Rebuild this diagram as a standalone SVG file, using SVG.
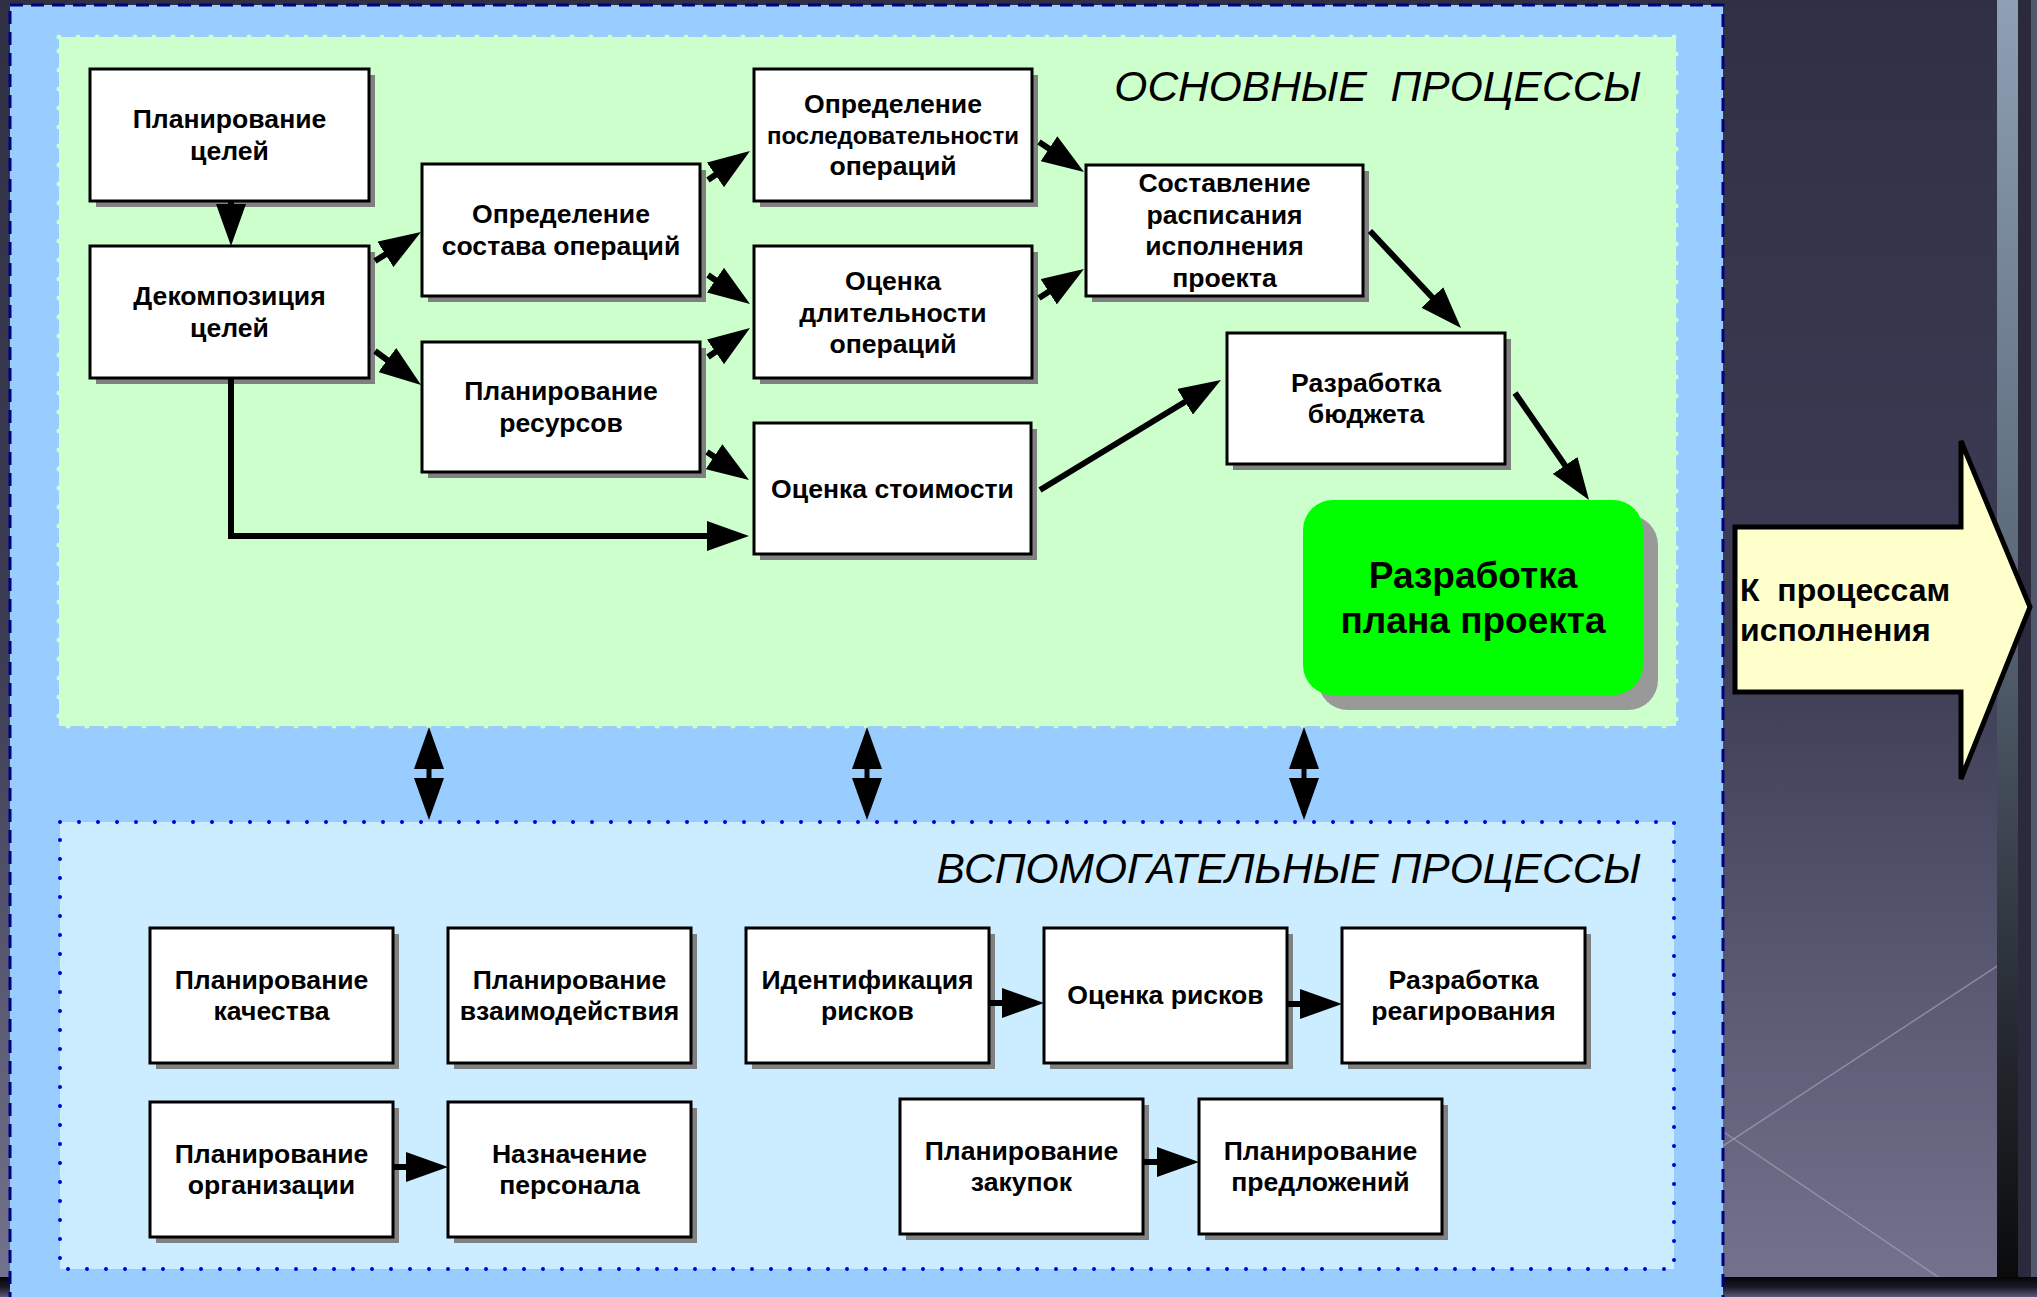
<svg xmlns="http://www.w3.org/2000/svg" width="2037" height="1297" viewBox="0 0 2037 1297">
  <defs>
    <linearGradient id="bg" x1="0" y1="0" x2="0" y2="1">
      <stop offset="0" stop-color="#303045"/>
      <stop offset="0.5" stop-color="#3c3c55"/>
      <stop offset="1" stop-color="#74748e"/>
    </linearGradient>
    <linearGradient id="vbar" x1="0" y1="0" x2="0" y2="1">
      <stop offset="0" stop-color="#8ea0b4"/>
      <stop offset="0.45" stop-color="#5a6878"/>
      <stop offset="0.7" stop-color="#333a44"/>
      <stop offset="1" stop-color="#080808"/>
    </linearGradient>
    <linearGradient id="hbar" x1="0" y1="0" x2="0" y2="1">
      <stop offset="0" stop-color="#050505"/>
      <stop offset="0.5" stop-color="#1a1a28"/>
      <stop offset="1" stop-color="#58587a"/>
    </linearGradient>
    <marker id="ah" markerUnits="userSpaceOnUse" markerWidth="42" markerHeight="30" viewBox="0 0 42 30" refX="30" refY="15" orient="auto-start-reverse">
      <path d="M0,0 L42,15 L0,30 z" fill="#000"/>
    </marker>
    <style>
      .box { fill: #ffffff; stroke: #000000; stroke-width: 3; }
      .shadow { fill: #808080; }
      .t { font-family: "Liberation Sans", Arial, sans-serif; font-weight: bold; font-size: 26.6px; text-anchor: middle; fill: #000; }
      .title { font-family: "Liberation Sans", Arial, sans-serif; font-style: italic; font-size: 42.5px; text-anchor: end; fill: #000; }
      .conn { fill: none; stroke: #000; stroke-width: 6; marker-end: url(#ah); }
      .dbl { fill: none; stroke: #000; stroke-width: 5; marker-start: url(#ah); marker-end: url(#ah); }
      .exec { font-family: "Liberation Sans", Arial, sans-serif; font-weight: bold; font-size: 32px; fill: #000; }
    </style>
  </defs>

  <!-- background -->
  <rect x="0" y="0" width="2037" height="1297" fill="url(#bg)"/>
  <line x1="1700" y1="1161" x2="2037" y2="940" stroke="#a0a0b8" stroke-width="1.5" opacity="0.7"/>
  <line x1="1700" y1="1116" x2="1953" y2="1287" stroke="#a0a0b8" stroke-width="1.5" opacity="0.7"/>
  <rect x="1997" y="0" width="21" height="1297" fill="url(#vbar)"/>
  <rect x="2018" y="0" width="13" height="1297" fill="#2a2a3c"/>
  <rect x="2031" y="0" width="6" height="1297" fill="#55556e"/>
  <rect x="0" y="1277" width="2037" height="20" fill="url(#hbar)"/>

  <!-- panels -->
  <rect id="outer-panel" x="10" y="5" width="1713" height="1310" fill="#99CCFF" stroke="#000080" stroke-width="3" stroke-dasharray="13 8"/>
  <rect id="main-panel" x="59" y="37" width="1617" height="689" fill="#CCFFCC" stroke="#CCFFCC" stroke-width="5" stroke-dasharray="0 19" stroke-linecap="round"/>
  <rect id="aux-panel" x="60" y="822" width="1614" height="447" fill="#CCECFF" stroke="#0000DD" stroke-width="4" stroke-dasharray="0 19" stroke-linecap="round"/>

  <text class="title" x="1641" y="101" xml:space="preserve">ОСНОВНЫЕ  ПРОЦЕССЫ</text>
  <text class="title" x="1641" y="883">ВСПОМОГАТЕЛЬНЫЕ ПРОЦЕССЫ</text>

  <!-- main nodes -->
  <g id="n-plan-goals">
    <rect class="shadow" x="96" y="75" width="279" height="132"/>
    <rect class="box" x="90" y="69" width="279" height="132"/>
    <text class="t" x="229.5" y="128">Планирование</text>
    <text class="t" x="229.5" y="159.5">целей</text>
  </g>
  <g id="n-decomp">
    <rect class="shadow" x="96" y="252" width="279" height="132"/>
    <rect class="box" x="90" y="246" width="279" height="132"/>
    <text class="t" x="229.5" y="305">Декомпозиция</text>
    <text class="t" x="229.5" y="336.5">целей</text>
  </g>
  <g id="n-ops">
    <rect class="shadow" x="428" y="170" width="278" height="132"/>
    <rect class="box" x="422" y="164" width="278" height="132"/>
    <text class="t" x="561" y="223">Определение</text>
    <text class="t" x="561" y="254.5">состава операций</text>
  </g>
  <g id="n-res">
    <rect class="shadow" x="428" y="348" width="278" height="130"/>
    <rect class="box" x="422" y="342" width="278" height="130"/>
    <text class="t" x="561" y="400">Планирование</text>
    <text class="t" x="561" y="431.5">ресурсов</text>
  </g>
  <g id="n-seq">
    <rect class="shadow" x="760" y="75" width="278" height="132"/>
    <rect class="box" x="754" y="69" width="278" height="132"/>
    <text class="t" x="893" y="113">Определение</text>
    <text class="t" x="893" y="144" style="font-size:24px">последовательности</text>
    <text class="t" x="893" y="174.5">операций</text>
  </g>
  <g id="n-dur">
    <rect class="shadow" x="760" y="252" width="278" height="132"/>
    <rect class="box" x="754" y="246" width="278" height="132"/>
    <text class="t" x="893" y="290">Оценка</text>
    <text class="t" x="893" y="321.5">длительности</text>
    <text class="t" x="893" y="353">операций</text>
  </g>
  <g id="n-cost">
    <rect class="shadow" x="760" y="429" width="277" height="131"/>
    <rect class="box" x="754" y="423" width="277" height="131"/>
    <text class="t" x="892.5" y="497.5">Оценка стоимости</text>
  </g>
  <g id="n-sched">
    <rect class="shadow" x="1092" y="171" width="277" height="131"/>
    <rect class="box" x="1086" y="165" width="277" height="131"/>
    <text class="t" x="1224.5" y="192">Составление</text>
    <text class="t" x="1224.5" y="223.5">расписания</text>
    <text class="t" x="1224.5" y="255">исполнения</text>
    <text class="t" x="1224.5" y="286.5">проекта</text>
  </g>
  <g id="n-budget">
    <rect class="shadow" x="1233" y="339" width="278" height="131"/>
    <rect class="box" x="1227" y="333" width="278" height="131"/>
    <text class="t" x="1366" y="391.5">Разработка</text>
    <text class="t" x="1366" y="423">бюджета</text>
  </g>
  <g id="n-plan">
    <rect x="1318" y="515" width="340" height="195" rx="30" ry="30" fill="#999999"/>
    <rect x="1303" y="500" width="340" height="195" rx="30" ry="30" fill="#00FF00"/>
    <text class="t" x="1473" y="588" style="font-size:37px">Разработка</text>
    <text class="t" x="1473" y="633" style="font-size:37px">плана проекта</text>
  </g>

  <!-- auxiliary nodes -->
  <g id="n-quality">
    <rect class="shadow" x="156" y="934" width="243" height="135"/>
    <rect class="box" x="150" y="928" width="243" height="135"/>
    <text class="t" x="271.5" y="988.5">Планирование</text>
    <text class="t" x="271.5" y="1020">качества</text>
  </g>
  <g id="n-comm">
    <rect class="shadow" x="454" y="934" width="243" height="135"/>
    <rect class="box" x="448" y="928" width="243" height="135"/>
    <text class="t" x="569.5" y="988.5">Планирование</text>
    <text class="t" x="569.5" y="1020">взаимодействия</text>
  </g>
  <g id="n-risk-id">
    <rect class="shadow" x="752" y="934" width="243" height="135"/>
    <rect class="box" x="746" y="928" width="243" height="135"/>
    <text class="t" x="867.5" y="988.5">Идентификация</text>
    <text class="t" x="867.5" y="1020">рисков</text>
  </g>
  <g id="n-risk-eval">
    <rect class="shadow" x="1050" y="934" width="243" height="135"/>
    <rect class="box" x="1044" y="928" width="243" height="135"/>
    <text class="t" x="1165.5" y="1004">Оценка рисков</text>
  </g>
  <g id="n-risk-resp">
    <rect class="shadow" x="1348" y="934" width="243" height="135"/>
    <rect class="box" x="1342" y="928" width="243" height="135"/>
    <text class="t" x="1463.5" y="988.5">Разработка</text>
    <text class="t" x="1463.5" y="1020">реагирования</text>
  </g>
  <g id="n-org">
    <rect class="shadow" x="156" y="1108" width="243" height="135"/>
    <rect class="box" x="150" y="1102" width="243" height="135"/>
    <text class="t" x="271.5" y="1162.5">Планирование</text>
    <text class="t" x="271.5" y="1194">организации</text>
  </g>
  <g id="n-staff">
    <rect class="shadow" x="454" y="1108" width="243" height="135"/>
    <rect class="box" x="448" y="1102" width="243" height="135"/>
    <text class="t" x="569.5" y="1162.5">Назначение</text>
    <text class="t" x="569.5" y="1194">персонала</text>
  </g>
  <g id="n-proc">
    <rect class="shadow" x="906" y="1105" width="243" height="135"/>
    <rect class="box" x="900" y="1099" width="243" height="135"/>
    <text class="t" x="1021.5" y="1159.5">Планирование</text>
    <text class="t" x="1021.5" y="1191">закупок</text>
  </g>
  <g id="n-offers">
    <rect class="shadow" x="1205" y="1105" width="243" height="135"/>
    <rect class="box" x="1199" y="1099" width="243" height="135"/>
    <text class="t" x="1320.5" y="1159.5">Планирование</text>
    <text class="t" x="1320.5" y="1191">предложений</text>
  </g>

  <!-- exit arrow -->
  <g id="n-exec">
    <polygon points="1735,527 1961,527 1961,441 2030,607 1961,779 1961,692 1735,692" fill="#FFFFCC" stroke="#000" stroke-width="5"/>
    <text class="exec" x="1740" y="601" xml:space="preserve">К  процессам</text>
    <text class="exec" x="1740" y="641">исполнения</text>
  </g>

  <!-- connectors -->
  <g id="connectors">
    <path class="conn" d="M231,201 L231,234"/>
    <path class="conn" d="M375,261 L410.8,238.4"/>
    <path class="conn" d="M375,351 L411.4,377.9"/>
    <path class="conn" d="M708,180 L740.1,157.8"/>
    <path class="conn" d="M708,275 L740.1,297.2"/>
    <path class="conn" d="M708,357 L740.1,334.8"/>
    <path class="conn" d="M707,452 L739,473.3"/>
    <path class="conn" d="M231,378 L231,536 L737,536"/>
    <path class="conn" d="M1039,142 L1074,165.3"/>
    <path class="conn" d="M1039,298 L1073.9,275.5"/>
    <path class="conn" d="M1370,231 L1452.8,319.3"/>
    <path class="conn" d="M1040,490 L1210.7,386.2"/>
    <path class="conn" d="M1515,393 L1582.2,490.1"/>
    <path class="dbl" d="M429,739 L429,808"/>
    <path class="dbl" d="M867,739 L867,808"/>
    <path class="dbl" d="M1304,739 L1304,808"/>
    <path class="conn" d="M989,1003 L1032,1003"/>
    <path class="conn" d="M1287,1004 L1330,1004"/>
    <path class="conn" d="M393,1167 L436,1167"/>
    <path class="conn" d="M1143,1162 L1187,1162"/>
  </g>
</svg>
